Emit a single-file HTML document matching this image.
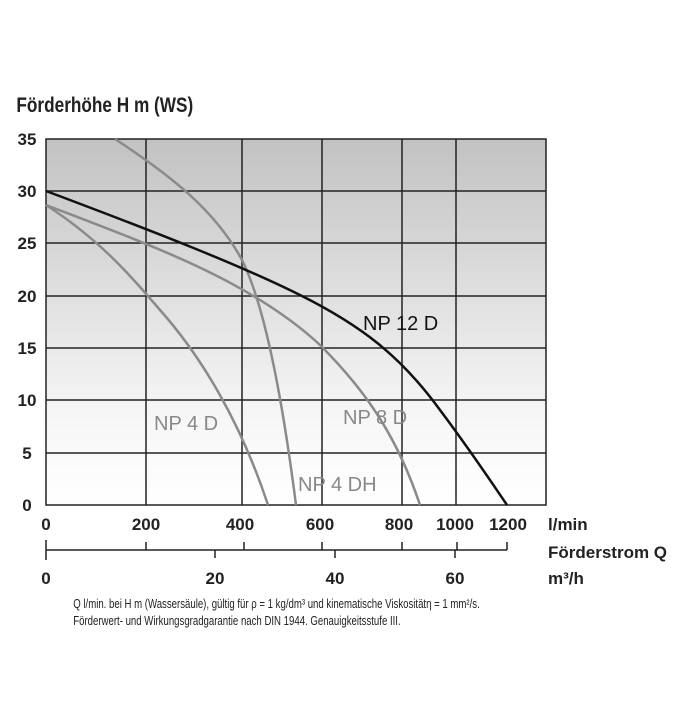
<!DOCTYPE html>
<html><head><meta charset="utf-8"><style>
body{margin:0;background:#fff;width:700px;height:700px;overflow:hidden}
svg text{font-family:"Liberation Sans",sans-serif}
</style></head><body>
<svg width="700" height="700" viewBox="0 0 700 700">
<defs><linearGradient id="g" x1="0" y1="0" x2="0" y2="1">
<stop offset="0" stop-color="#c2c2c2"/><stop offset="0.75" stop-color="#f6f6f6"/><stop offset="1" stop-color="#ffffff"/></linearGradient></defs>
<rect x="46" y="139" width="500" height="366" fill="url(#g)"/>
<g stroke="#222" stroke-width="1.5" fill="none">
<rect x="46" y="139" width="500" height="366"/>
<path d="M46 191H546M46 243H546M46 296H546M46 348H546M46 400H546M46 453H546"/>
<path d="M146 139V505M242 139V505M322 139V505M402 139V505M456 139V505"/>
</g>
<g fill="none" stroke="#8a8a8a" stroke-width="2.5">
<path d="M46 205 C100 240 130 275 160 310 C200 355 240 420 268 505"/>
<path d="M46 205 C150 245 250 280 320 345 C360 385 395 430 420 505"/>
<path d="M115 139 C170 175 215 210 242 260 C262 300 280 380 296 505"/>
</g>
<path d="M46 191 C150 230 240 265 300 295 C360 325 400 355 440 410 C470 450 490 480 507 505" fill="none" stroke="#111" stroke-width="2.5"/>
<text x="363" y="330" font-size="20" fill="#111">NP 12 D</text>
<text x="343" y="424" font-size="20" fill="#888">NP 8 D</text>
<text x="154" y="430" font-size="20" fill="#888">NP 4 D</text>
<text x="298" y="491" font-size="20" fill="#888">NP 4 DH</text>
<g font-weight="bold" fill="#222" transform="scale(0.82,1)">
<text x="20" y="112" font-size="21">Förderhöhe H m (WS)</text>
</g>
<g font-size="17" font-weight="bold" fill="#222" text-anchor="middle">
<text x="27" y="145">35</text><text x="27" y="197">30</text><text x="27" y="249">25</text>
<text x="27" y="302">20</text><text x="27" y="354">15</text><text x="27" y="406">10</text>
<text x="27" y="459">5</text><text x="27" y="511">0</text>
<text x="46" y="530">0</text><text x="146" y="530">200</text><text x="240" y="530">400</text>
<text x="320" y="530">600</text><text x="399" y="530">800</text><text x="455" y="530">1000</text><text x="508" y="530">1200</text>
<text x="46" y="584">0</text><text x="215" y="584">20</text><text x="335" y="584">40</text><text x="455" y="584">60</text>
</g>
<g font-size="17" font-weight="bold" fill="#222">
<text x="548" y="530">l/min</text>
<text x="548" y="558">Förderstrom Q</text>
<text x="548" y="584">m³/h</text>
</g>
<g stroke="#222" stroke-width="1.5" fill="none">
<path d="M46 550H507M46 540V560M146 542V550M244 542V550M322 542V550M402 542V550M457 542V550M507 542V550M215 550V558M335 550V558M455 550V558"/>
</g>
<g font-size="13" fill="#222" transform="scale(0.74,1)">
<text x="99" y="608">Q l/min. bei H m (Wassersäule), gültig für ρ = 1 kg/dm³ und kinematische Viskositätη = 1 mm²/s.</text>
<text x="99" y="625">Förderwert- und Wirkungsgradgarantie nach DIN 1944. Genauigkeitsstufe III.</text>
</g>
</svg>
</body></html>
